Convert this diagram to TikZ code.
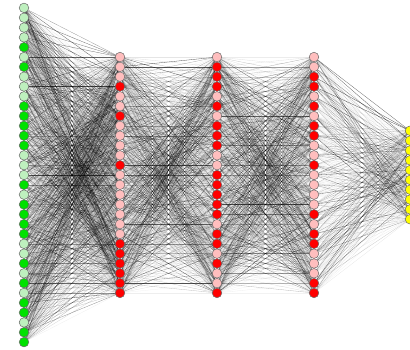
\documentclass[tikz,border=0pt]{standalone}
\pgfdeclarelayer{paper}
\pgfdeclarelayer{wires}
\pgfsetlayers{paper,wires,main}

% unit colours: pale / saturated per layer type
\definecolor{gL}{RGB}{190,240,190}
\definecolor{gD}{RGB}{0,225,0}
\definecolor{rL}{RGB}{255,190,190}
\definecolor{rD}{RGB}{255,0,0}
\definecolor{yY}{RGB}{255,255,0}
\definecolor{rim}{RGB}{105,105,105}

\tikzset{
  unit/.style={circle, draw=rim, line width=0.5bp, minimum size=9.6bp, inner sep=0pt},
  wire/.style={line width=0.3bp, draw=black}
}

% #1 name prefix, #2 x position, #3 number of units, #4 list of fill colours
\newcommand\netlayer[4]{%
  \foreach \c [count=\k] in {#4} {%
    \pgfmathsetmacro\yy{175+(\k-1-(#3-1)/2)*9.83}
    \node[unit, fill=\c] (#1\k) at (#2,\yy) {};
  }}

% all-to-all weights between two layers, opacity from a random weight
\newcommand\netlinks[4]{%
  \begin{pgfonlayer}{wires}
  \foreach \a in {1,...,#2} {\foreach \b in {1,...,#4} {%
    \pgfmathsetmacro\op{0.05+0.65*rnd^3}
    \draw[wire, draw opacity=\op] (#1\a.center) -- (#3\b.center);
  }}
  \end{pgfonlayer}}

\begin{document}
\begin{tikzpicture}[x=1bp, y=-1bp]
\pgfmathsetseed{4711}
\begin{pgfonlayer}{paper}
  \fill[white] (0,0) rectangle (410,350);
\end{pgfonlayer}
\clip (0,0) rectangle (410,350);

\netlayer{in}{24}{35}{gL,gL,gL,gL,gD,gL,gD,gL,gL,gL,
  gD,gD,gD,gD,gD,gL,gL,gL,gD,gL,
  gD,gD,gD,gD,gL,gL,gD,gL,gD,gL,
  gD,gD,gL,gD,gD}
\netlayer{ha}{120}{25}{rL,rL,rL,rD,rL,rL,rD,rL,rL,rL,
  rL,rD,rL,rL,rL,rL,rL,rL,rL,rD,
  rD,rD,rD,rD,rD}
\netlayer{hb}{217}{25}{rL,rD,rD,rD,rL,rD,rL,rD,rD,rD,
  rL,rL,rD,rD,rD,rD,rD,rL,rD,rD,
  rL,rD,rL,rL,rD}
\netlayer{hc}{314}{25}{rL,rL,rD,rD,rL,rD,rL,rD,rD,rL,
  rL,rD,rL,rL,rL,rL,rD,rL,rD,rD,
  rL,rL,rL,rD,rD}
\netlayer{out}{410}{10}{yY,yY,yY,yY,yY,yY,yY,yY,yY,yY}

\netlinks{in}{35}{ha}{25}
\netlinks{ha}{25}{hb}{25}
\netlinks{hb}{25}{hc}{25}
\netlinks{hc}{25}{out}{10}
\end{tikzpicture}
\end{document}
